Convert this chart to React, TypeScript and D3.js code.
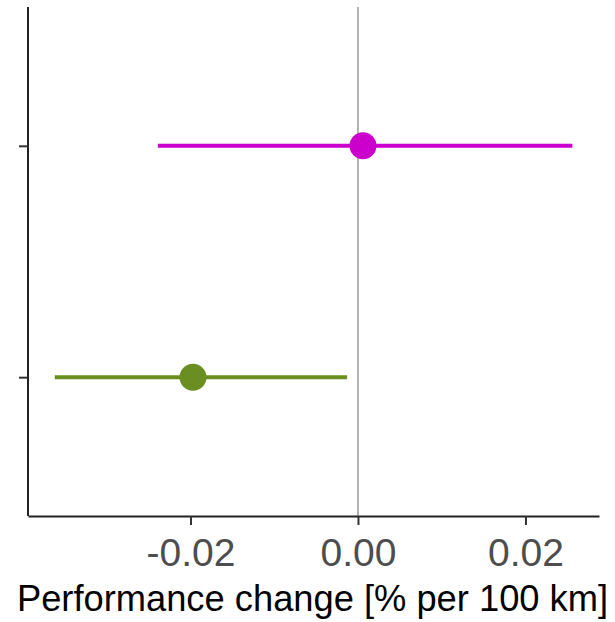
import React, { useEffect, useRef } from 'react';
import * as d3 from 'd3';

// groups, top to bottom
const groups = ['A', 'B'];
const estimates = [0.0006, -0.0197];
const lower = [-0.0239, -0.0362];
const upper = [0.0256, -0.0013];
const colors = ['#cc00cc', '#6b8e23'];
const xTicks = [-0.02, 0, 0.02];
const xTitle = 'Performance change [% per 100 km]';

export default function App() {
  const ref = useRef<SVGSVGElement>(null);

  useEffect(() => {
    const svg = d3.select(ref.current);
    svg.selectAll('*').remove();

    // plot box
    const left = 28, right = 599, top = 7, bottom = 516;

    const x = d3.scaleLinear().domain([-0.0394, 0.02878]).range([left, right]);
    const y = d3.scalePoint<string>().domain(groups).range([top, bottom]).padding(0.6);

    const font = '"Liberation Sans", Arial, sans-serif';

    // zero reference line
    svg.append('line')
      .attr('x1', x(0)).attr('x2', x(0))
      .attr('y1', top).attr('y2', bottom)
      .attr('stroke', '#a0a0a0')
      .attr('stroke-width', 1.6);

    // x axis
    const xAxis = svg.append('g')
      .attr('transform', `translate(0,${bottom})`)
      .call(d3.axisBottom(x).tickValues(xTicks).tickFormat(d3.format('.2f')).tickSize(9).tickSizeOuter(0).tickPadding(13));
    xAxis.select('.domain').attr('stroke', '#222').attr('stroke-width', 2);
    xAxis.selectAll('.tick line').attr('stroke', '#333').attr('stroke-width', 2);
    xAxis.selectAll('.tick text')
      .attr('fill', '#4d4d4d')
      .attr('font-family', font)
      .attr('font-size', 39)
      .text((d: any) => d3.format('.2f')(d).replace('−', '-'));

    // y axis (no labels)
    const yAxis = svg.append('g')
      .attr('transform', `translate(${left},0)`)
      .call(d3.axisLeft(y).tickSize(9).tickSizeOuter(0).tickFormat(() => ''));
    yAxis.select('.domain').attr('stroke', '#222').attr('stroke-width', 2)
      .attr('d', `M0,${top}V${bottom}`);
    yAxis.selectAll('.tick line').attr('stroke', '#333').attr('stroke-width', 2);

    // intervals
    svg.append('g').selectAll('line')
      .data(groups)
      .join('line')
      .attr('x1', (_, i) => x(lower[i]))
      .attr('x2', (_, i) => x(upper[i]))
      .attr('y1', d => y(d)!)
      .attr('y2', d => y(d)!)
      .attr('stroke', (_, i) => colors[i])
      .attr('stroke-width', 4);

    // point estimates
    svg.append('g').selectAll('circle')
      .data(groups)
      .join('circle')
      .attr('cx', (_, i) => x(estimates[i]))
      .attr('cy', d => y(d)!)
      .attr('r', 13.5)
      .attr('fill', (_, i) => colors[i]);

    // x title
    svg.append('text')
      .attr('x', (17 + 608) / 2)
      .attr('y', 611)
      .attr('text-anchor', 'middle')
      .attr('font-family', font)
      .attr('font-size', 36.3)
      .attr('fill', '#000')
      .text(xTitle);
  }, []);

  return (
    <svg ref={ref} width={615} height={622}
      style={{ position: 'absolute', left: 0, top: 0, background: '#fff' }} />
  );
}
